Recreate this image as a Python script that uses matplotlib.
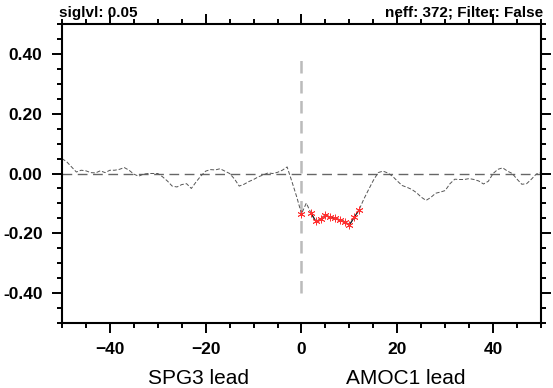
import numpy as np
import matplotlib
matplotlib.use("Agg")
import matplotlib.pyplot as plt
from matplotlib.ticker import MultipleLocator

plt.rcParams['font.family'] = ['Liberation Sans', 'DejaVu Sans']

lags = np.arange(-50, 51)
corr = [
    0.050, 0.039, 0.022, 0.005, 0.011, 0.009, 0.003, 0.002, 0.009, 0.003,   # -50..-41
    0.011, 0.011, 0.014, 0.020, 0.011, -0.002, -0.009, -0.002, 0.000, 0.000,  # -40..-31
    0.000, -0.011, -0.025, -0.042, -0.045, -0.037, -0.034, -0.050, -0.028, -0.008,  # -30..-21
    0.008, 0.013, 0.012, 0.016, 0.008, 0.000, -0.018, -0.042, -0.036, -0.027,  # -20..-11
    -0.020, -0.011, -0.005, 0.002, 0.000, 0.004, 0.011, 0.022, -0.027, -0.078,  # -10..-1
    -0.135,  # 0
    -0.099, -0.133, -0.160, -0.153, -0.138, -0.147, -0.150, -0.155, -0.161, -0.172,  # 1..10
    -0.147, -0.122, -0.086, -0.054, -0.023, 0.003, 0.008, 0.002, -0.009, -0.025,  # 11..20
    -0.040, -0.046, -0.053, -0.064, -0.079, -0.090, -0.080, -0.066, -0.062, -0.057,  # 21..30
    -0.034, -0.019, -0.020, -0.020, -0.017, -0.020, -0.025, -0.035, -0.026, 0.000,  # 31..40
    0.014, 0.019, 0.008, 0.000, -0.019, -0.036, -0.034, -0.019, -0.002, 0.003,  # 41..50
]
sig_lags = [0, 2, 3, 4, 5, 6, 7, 8, 9, 10, 11, 12]

corr = np.array(corr)
sig = np.isin(lags, sig_lags)
corr_sig = np.ma.masked_where(~sig, corr)

fig = plt.figure(figsize=(5.53, 3.88), dpi=100)
ax = fig.add_axes([0.1121, 0.1675, 0.8662, 0.7706])

ax.axhline(0, color='#666666', lw=1.0, dashes=(7, 4), zorder=1)
ax.plot([0, 0], [-0.4, 0.4], color='#bbbbbb', lw=1.8, dashes=(5, 3), zorder=1)
ax.plot(lags, corr, color='#555555', lw=0.7, dashes=(4, 2), zorder=2)
ax.plot(lags, corr_sig, color='#222222', lw=0.9, zorder=3)
ax.plot(lags[sig], corr[sig], ls='none', marker=(6, 2, 0), ms=5.5,
        mec='#ff3030', mew=0.6, zorder=4)

ax.set_xlim(-50, 50)
ax.set_ylim(-0.5, 0.5)
ax.xaxis.set_major_locator(MultipleLocator(20))
ax.xaxis.set_minor_locator(MultipleLocator(5))
ax.yaxis.set_major_locator(MultipleLocator(0.2))
ax.yaxis.set_minor_locator(MultipleLocator(0.05))
ax.yaxis.set_major_formatter(plt.FormatStrFormatter('%.2f'))
ax.tick_params(which='both', direction='out', top=True, right=True, width=1.4)
ax.tick_params(which='major', length=7, labelsize=12.5, pad=7)
ax.tick_params(which='minor', length=3.5)
for lbl in ax.get_xticklabels() + ax.get_yticklabels():
    lbl.set_fontweight('bold')
for s in ax.spines.values():
    s.set_linewidth(1.5)

ax.text(-0.006, 1.015, 'siglvl: 0.05', transform=ax.transAxes, ha='left', va='bottom',
        fontsize=11, fontweight='bold')
ax.text(1.005, 1.015, 'neff: 372; Filter: False', transform=ax.transAxes, ha='right',
        va='bottom', fontsize=11, fontweight='bold')

fig.text(199 / 553, 1 - 378 / 388, 'SPG3 lead', ha='center', va='center', fontsize=15)
fig.text(406 / 553, 1 - 378 / 388, 'AMOC1 lead', ha='center', va='center', fontsize=15)

fig.savefig('out.png', dpi=100)
